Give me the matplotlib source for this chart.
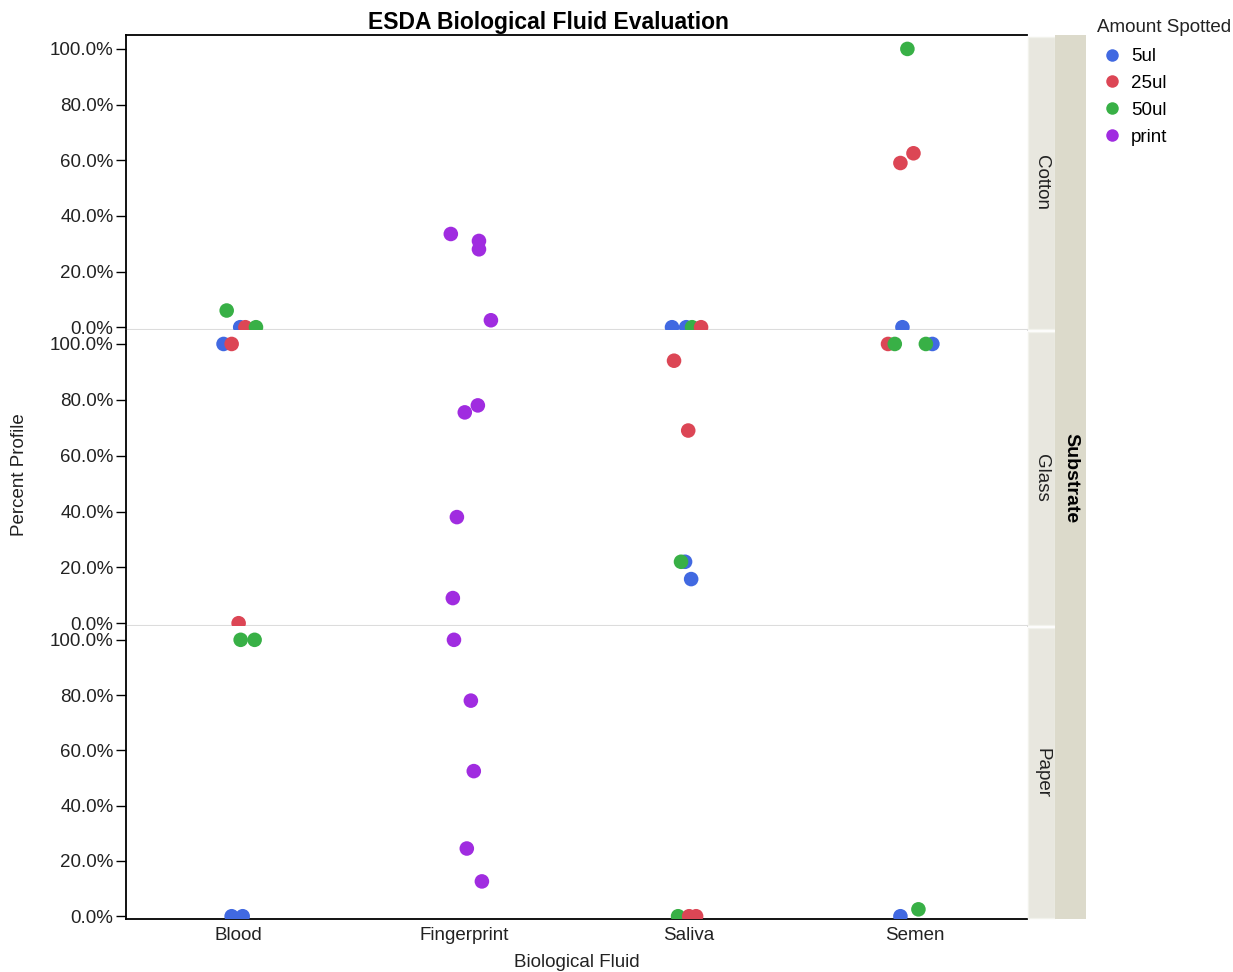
import matplotlib.pyplot as plt
from matplotlib.patches import Rectangle
from matplotlib.lines import Line2D
from matplotlib.ticker import FuncFormatter

plt.rcParams['font.family'] = ['Liberation Sans', 'DejaVu Sans']

# categories
fluids = ['Blood', 'Fingerprint', 'Saliva', 'Semen']
amounts = ['5ul', '25ul', '50ul', 'print']
substrates = ['Cotton', 'Glass', 'Paper']
colors = {'5ul': '#4169E1', '25ul': '#DC4655', '50ul': '#38B046', 'print': '#A02CE0'}

# Cotton
cotton_fluid = ['Blood', 'Blood', 'Blood', 'Blood',
                'Fingerprint', 'Fingerprint', 'Fingerprint', 'Fingerprint',
                'Saliva', 'Saliva', 'Saliva', 'Saliva',
                'Semen', 'Semen', 'Semen', 'Semen']
cotton_amount = ['50ul', '5ul', '25ul', '50ul',
                 'print', 'print', 'print', 'print',
                 '5ul', '5ul', '50ul', '25ul',
                 '50ul', '25ul', '25ul', '5ul']
cotton_pct = [6.0, 0.0, 0.0, 0.0,
              33.5, 31.0, 28.0, 2.5,
              0.0, 0.0, 0.0, 0.0,
              100.0, 59.0, 62.5, 0.0]
cotton_jitter = [-0.053, 0.007, 0.030, 0.077,
                 -0.058, 0.067, 0.067, 0.120,
                 -0.076, -0.013, 0.013, 0.053,
                 -0.031, -0.062, -0.004, -0.053]

# Glass
glass_fluid = ['Blood', 'Blood', 'Blood',
               'Fingerprint', 'Fingerprint', 'Fingerprint', 'Fingerprint',
               'Saliva', 'Saliva', 'Saliva', 'Saliva', 'Saliva',
               'Semen', 'Semen', 'Semen', 'Semen']
glass_amount = ['5ul', '25ul', '25ul',
                'print', 'print', 'print', 'print',
                '25ul', '25ul', '5ul', '50ul', '5ul',
                '25ul', '50ul', '5ul', '50ul']
glass_pct = [100.0, 100.0, 0.0,
             75.5, 78.0, 38.0, 9.0,
             94.0, 69.0, 22.0, 22.0, 15.8,
             100.0, 100.0, 100.0, 100.0]
glass_jitter = [-0.067, -0.031, 0.000,
                0.004, 0.062, -0.031, -0.049,
                -0.067, -0.004, -0.018, -0.036, 0.009,
                -0.117, -0.087, 0.080, 0.051]

# Paper
paper_fluid = ['Blood', 'Blood', 'Blood', 'Blood',
               'Fingerprint', 'Fingerprint', 'Fingerprint', 'Fingerprint', 'Fingerprint',
               'Saliva', 'Saliva', 'Saliva',
               'Semen', 'Semen']
paper_amount = ['50ul', '50ul', '5ul', '5ul',
                'print', 'print', 'print', 'print', 'print',
                '50ul', '25ul', '25ul',
                '5ul', '50ul']
paper_pct = [100.0, 100.0, 0.0, 0.0,
             100.0, 78.0, 52.5, 24.5, 12.6,
             0.0, 0.0, 0.0,
             0.0, 2.5]
paper_jitter = [0.009, 0.071, -0.031, 0.018,
                -0.044, 0.031, 0.044, 0.013, 0.080,
                -0.049, 0.000, 0.031,
                -0.062, 0.018]

panels = [
    (cotton_fluid, cotton_amount, cotton_pct, cotton_jitter),
    (glass_fluid, glass_amount, glass_pct, glass_jitter),
    (paper_fluid, paper_amount, paper_pct, paper_jitter),
]

W, H = 1233, 972
fig = plt.figure(figsize=(W / 100, H / 100), dpi=100)

left, right = 126, 1027
bounds = [(35, 330), (330, 626), (626, 919)]
sep_color = '#DCDCDC'
fs = 13.5
pct_fmt = FuncFormatter(lambda v, p: f'{v:.1f}%')

for i, ((top, bot), (fl, am, pc, jt)) in enumerate(zip(bounds, panels)):
    ax = fig.add_axes([left / W, 1 - bot / H, (right - left) / W, (bot - top) / H])
    xs = [fluids.index(f) + j for f, j in zip(fl, jt)]
    for x, a, v in zip(xs, am, pc):
        ax.scatter(x, v, s=110, color=colors[a], edgecolors='none', zorder=3)
    ax.set_xlim(-0.5, 3.5)
    ax.set_ylim(-1, 105)
    ax.set_yticks([0, 20, 40, 60, 80, 100])
    ax.yaxis.set_major_formatter(pct_fmt)
    ax.tick_params(axis='y', direction='out', length=7, width=1, labelsize=fs, pad=2,
                   labelcolor='#222222')
    ax.set_xticks(range(len(fluids)))
    if i == 2:
        ax.set_xticklabels(fluids, fontsize=fs, color='#222222')
        ax.tick_params(axis='x', length=0, pad=6)
    else:
        ax.set_xticklabels([])
        ax.tick_params(axis='x', length=0)
    ax.spines['right'].set_visible(False)
    ax.spines['left'].set_linewidth(1.3)
    if i == 0:
        ax.spines['top'].set_linewidth(1.3)
    else:
        ax.spines['top'].set_visible(False)
    if i == 2:
        ax.spines['bottom'].set_linewidth(1.3)
    else:
        ax.spines['bottom'].set_color(sep_color)
        ax.spines['bottom'].set_linewidth(1.5)

    # strip for the substrate
    fig.patches.append(Rectangle(((right + 1) / W, 1 - (bot - 1) / H), 27 / W, (bot - top - 3) / H,
                                 transform=fig.transFigure, facecolor='#E8E7DF',
                                 edgecolor='#F2F2EC', linewidth=1))
    fig.text((right + 15) / W, 1 - ((top + bot) / 2) / H, substrates[i], rotation=-90,
             ha='center', va='center', fontsize=fs, color='#222222')

# outer strip
fig.patches.append(Rectangle((1055 / W, 1 - 919 / H), 31 / W, (919 - 35) / H,
                             transform=fig.transFigure, facecolor='#DCDACB', edgecolor='none'))
fig.text(1071 / W, 1 - 478 / H, 'Substrate', rotation=-90, ha='center', va='center',
         fontsize=14, fontweight='bold')

fig.text(548 / W, 1 - 22 / H, 'ESDA Biological Fluid Evaluation', ha='center', va='center',
         fontsize=16.5, fontweight='bold')
fig.text(20 / W, 1 - 475 / H, 'Percent Profile', rotation=90, ha='center', va='center',
         fontsize=fs, color='#222222')
fig.text(577 / W, 1 - 962 / H, 'Biological Fluid', ha='center', va='center',
         fontsize=fs, color='#222222')

# legend
fig.text(1097 / W, 1 - 28 / H, 'Amount Spotted', ha='left', va='center', fontsize=fs,
         color='#222222')
handles = [Line2D([], [], marker='o', linestyle='none', markersize=9,
                  markerfacecolor=colors[a], markeredgecolor='none', label=a) for a in amounts]
fig.legend(handles=handles, loc='upper left', bbox_to_anchor=(1098 / W, 1 - 48 / H),
           frameon=False, fontsize=fs, handletextpad=0.25, labelspacing=0.52,
           borderaxespad=0, borderpad=0, handlelength=1.5)

fig.savefig('out.png', dpi=100)
